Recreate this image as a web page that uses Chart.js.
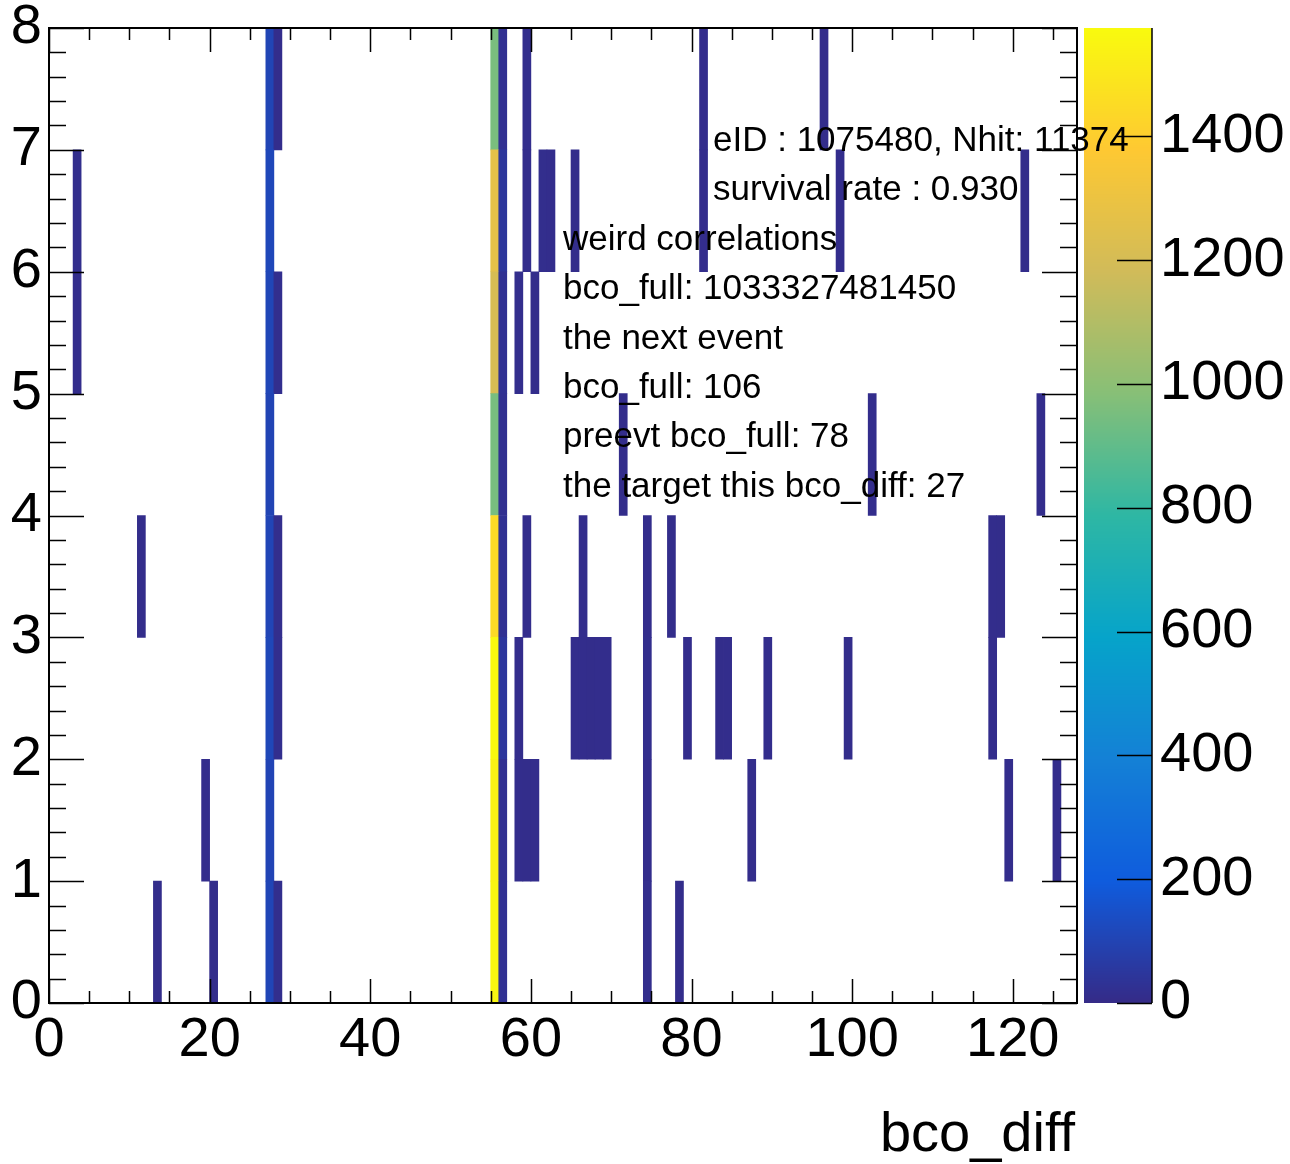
<!DOCTYPE html>
<html>
<head>
<meta charset="utf-8">
<script src="https://cdn.jsdelivr.net/npm/chart.js@4/dist/chart.umd.min.js"></script>
<style>
html,body{margin:0;padding:0;background:#ffffff;}
canvas{display:block;}
</style>
</head>
<body>
<canvas id="c" width="1290" height="1164"></canvas>
<script>
// ---------------- data ----------------
// filled bco_diff bins (lower edges) per y row, and their entries
const row0Bins   = [13, 20, 27, 28, 55, 56, 74, 78];
const row0Counts = [9, 10, 108, 14, 1555, 24, 13, 9];
const row1Bins   = [19, 27, 55, 56, 58, 59, 60, 74, 87, 119, 125];
const row1Counts = [11, 104, 1540, 22, 12, 10, 12, 12, 10, 11, 11];
const row2Bins   = [27, 28, 55, 56, 58, 65, 66, 67, 68, 69, 74, 79, 83, 84, 89, 99, 117];
const row2Counts = [112, 16, 1570, 48, 11, 11, 12, 10, 12, 11, 14, 11, 10, 11, 12, 10, 11];
const row3Bins   = [11, 27, 28, 55, 56, 59, 66, 74, 77, 117, 118];
const row3Counts = [10, 106, 13, 1445, 26, 12, 11, 11, 10, 12, 10];
const row4Bins   = [27, 55, 56, 71, 102, 123];
const row4Counts = [102, 950, 21, 10, 12, 12];
const row5Bins   = [3, 27, 28, 55, 56, 58, 60];
const row5Counts = [12, 110, 15, 1210, 25, 13, 10];
const row6Bins   = [3, 27, 55, 56, 59, 61, 62, 65, 81, 98, 121];
const row6Counts = [14, 115, 1265, 46, 11, 13, 12, 10, 12, 11, 10];
const row7Bins   = [27, 28, 55, 56, 59, 81, 96];
const row7Counts = [105, 12, 955, 23, 13, 11, 10];

const X_MIN = 0, X_MAX = 128;     // bco_diff axis range
const Y_MIN = 0, Y_MAX = 8;       // y axis range
const Z_MAX = 1575;               // colour scale maximum
const xTickStep = 20, yTickStep = 1;
const zTickValues = [0, 200, 400, 600, 800, 1000, 1200, 1400];
const xTitle = "bco_diff";
const noteLines = [
  "eID : 1075480, Nhit: 11374",
  "survival rate : 0.930",
  "weird correlations",
  "bco_full: 1033327481450",
  "the next event",
  "bco_full: 106",
  "preevt bco_full: 78",
  "the target this bco_diff: 27"
];

// ---------------- styling ----------------
const FONT = "'Liberation Sans', Arial, Helvetica, sans-serif";
const rowsBins = [row0Bins,row1Bins,row2Bins,row3Bins,row4Bins,row5Bins,row6Bins,row7Bins];
const rowsCounts = [row0Counts,row1Counts,row2Counts,row3Counts,row4Counts,row5Counts,row6Counts,row7Counts];

// ROOT kBird palette
const stops = [0.0000, 0.1250, 0.2500, 0.3750, 0.5000, 0.6250, 0.7500, 0.8750, 1.0000];
const pr = [0.2082, 0.0592, 0.0780, 0.0232, 0.1802, 0.5301, 0.8186, 0.9956, 0.9764];
const pg = [0.1664, 0.3599, 0.5041, 0.6419, 0.7178, 0.7492, 0.7328, 0.7862, 0.9832];
const pb = [0.5293, 0.8684, 0.8385, 0.7914, 0.6425, 0.4662, 0.3499, 0.1968, 0.0539];
function birdColor(t) {
  t = Math.max(0, Math.min(1, t));
  let i = 0;
  while (i < stops.length - 2 && t > stops[i + 1]) i++;
  const f = (t - stops[i]) / (stops[i + 1] - stops[i]);
  const c = a => Math.round(255 * (a[i] + (a[i + 1] - a[i]) * f));
  return `rgb(${c(pr)},${c(pg)},${c(pb)})`;
}

const datasets = rowsBins.map((bins, r) => ({
  label: 'row ' + r,
  xAxisID: 'x',
  yAxisID: 'y',
  grouped: false,
  barPercentage: 1,
  categoryPercentage: 1,
  borderWidth: 0,
  data: bins.map((b, i) => ({ x: b + 0.5, y: [r, r + 1], v: rowsCounts[r][i] })),
  backgroundColor: ctx => birdColor((ctx.raw ? ctx.raw.v : 0) / Z_MAX)
}));

const rootPlugin = {
  id: 'rootStyle',
  beforeDatasetsDraw(chart) {
    // palette (colour bar)
    const { ctx, chartArea: a, scales: { z } } = chart;
    const x0 = a.right + 7, x1 = a.right + 75;
    for (let py = Math.floor(z.top); py < Math.ceil(z.bottom); py++) {
      ctx.fillStyle = birdColor(z.getValueForPixel(py + 0.5) / Z_MAX);
      ctx.fillRect(x0, py, x1 - x0, 1);
    }
  },
  afterDatasetsDraw(chart) {
    const { ctx, chartArea: a, scales: { x, y, z } } = chart;
    ctx.save();
    ctx.strokeStyle = '#000';
    // frame
    ctx.lineWidth = 2;
    ctx.strokeRect(a.left, a.top, a.right - a.left, a.bottom - a.top);
    // x ticks (bottom + top), minor every 5
    ctx.lineWidth = 1.5;
    ctx.beginPath();
    for (let v = X_MIN; v <= X_MAX; v += 5) {
      const px = Math.round(x.getPixelForValue(v)) + 0.5;
      const len = (v % xTickStep === 0) ? 24 : 12;
      ctx.moveTo(px, a.bottom); ctx.lineTo(px, a.bottom - len);
      ctx.moveTo(px, a.top); ctx.lineTo(px, a.top + len);
    }
    // y ticks (left + right), minor every 0.2
    for (let k = 0; k <= (Y_MAX - Y_MIN) * 5; k++) {
      const v = Y_MIN + k / 5;
      const py = Math.round(y.getPixelForValue(v)) + 0.5;
      const len = (k % 5 === 0) ? 35 : 17;
      ctx.moveTo(a.left, py); ctx.lineTo(a.left + len, py);
      ctx.moveTo(a.right, py); ctx.lineTo(a.right - len, py);
    }
    ctx.stroke();
    // palette axis line and ticks
    const xb = a.right + 75;
    ctx.beginPath();
    ctx.moveTo(xb, z.top); ctx.lineTo(xb, z.bottom);
    z.ticks.forEach(t => {
      const py = Math.round(z.getPixelForValue(t.value)) + 0.5;
      ctx.moveTo(xb, py); ctx.lineTo(xb - 35, py);
    });
    ctx.stroke();
    // annotation text
    ctx.fillStyle = '#000';
    ctx.font = '35px ' + FONT;
    ctx.textAlign = 'left';
    ctx.textBaseline = 'alphabetic';
    noteLines.forEach((s, i) => {
      const tx = i < 2 ? 713 : 563;
      ctx.fillText(s, tx, 151 + i * 49.4);
    });
    // x axis title
    ctx.font = '56px ' + FONT;
    ctx.textAlign = 'right';
    ctx.fillText(xTitle, a.right - 2, 1151);
    ctx.restore();
  }
};

const tickFontH = { family: FONT, size: 56 };
const tickFontV = { family: FONT, size: 56, lineHeight: 0.5 };
new Chart(document.getElementById('c'), {
  type: 'bar',
  data: { datasets },
  plugins: [rootPlugin],
  options: {
    responsive: false,
    animation: false,
    devicePixelRatio: 1,
    layout: { padding: { top: 28, left: 0, right: 0, bottom: 0 } },
    plugins: { legend: { display: false }, tooltip: { enabled: false } },
    scales: {
      x: {
        type: 'linear', position: 'bottom', min: X_MIN, max: X_MAX, offset: false,
        grid: { display: false, drawTicks: false }, border: { display: false },
        ticks: { stepSize: xTickStep, includeBounds: false, autoSkip: false, maxRotation: 0,
                 padding: 4, color: '#000', font: tickFontH, callback: v => String(v) },
        afterFit: s => { s.height = 161; }
      },
      y: {
        type: 'linear', position: 'left', min: Y_MIN, max: Y_MAX,
        grid: { display: false, drawTicks: false }, border: { display: false },
        ticks: { stepSize: yTickStep, autoSkip: false, padding: 7, color: '#000', font: tickFontV,
                 callback: v => String(v) },
        afterFit: s => { s.width = 49; }
      },
      z: {
        type: 'linear', position: 'right', min: 0, max: Z_MAX,
        grid: { display: false, drawTicks: true, tickLength: 80 }, border: { display: false },
        afterBuildTicks: s => { s.ticks = zTickValues.map(v => ({ value: v })); },
        ticks: { autoSkip: false, padding: 3, color: '#000', font: tickFontV,
                 callback: v => String(v) },
        afterFit: s => { s.width = 213; }
      }
    }
  }
});
</script>
</body>
</html>
